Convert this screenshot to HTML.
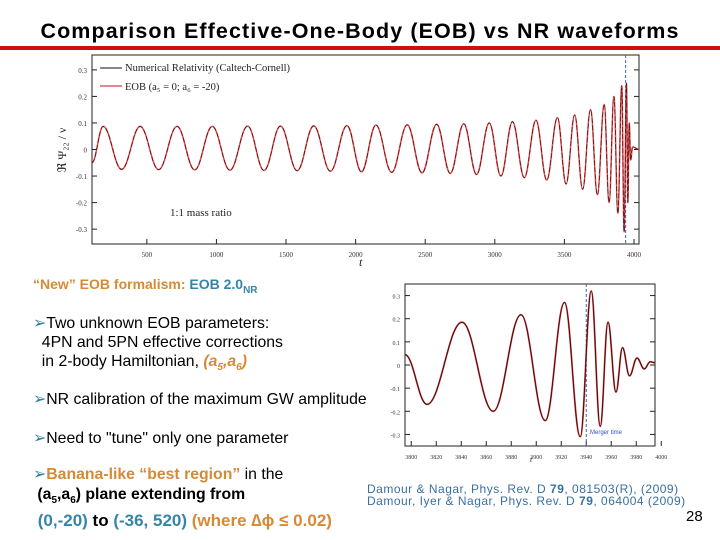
<!DOCTYPE html>
<html><head><meta charset="utf-8">
<style>
body{margin:0;width:720px;height:540px;background:#fff;position:relative;overflow:hidden;font-family:"Liberation Sans",Arial,sans-serif}
.t{position:absolute;white-space:nowrap;font-size:15.8px;color:#000}
.o{color:#d58a35;font-weight:bold}
.b{color:#3485a8}
.ar{color:#2f7fa0}
</style></head><body>
<div class="t" style="left:0;width:720px;text-align:center;top:19px;font-size:21.5px;letter-spacing:1.1px;font-weight:bold">Comparison Effective-One-Body (EOB) vs NR waveforms</div>
<div style="position:absolute;left:0;top:46px;width:720px;height:4px;background:#d01010"></div>

<svg id="topSvg" width="720" height="280" style="position:absolute;left:0;top:0"></svg>
<svg id="botSvg" width="720" height="540" style="position:absolute;left:0;top:0"></svg>

<div class="t" style="left:33px;top:276px;font-size:14px"><span class="o">“New” EOB formalism: </span><span class="b" style="font-weight:bold">EOB 2.0<sub style="font-size:10px">NR</sub></span></div>
<div class="t" style="left:33px;top:314px;line-height:19px"><span class="ar">➢</span>Two unknown EOB parameters:<br>&nbsp;&nbsp;4PN and 5PN effective corrections<br>&nbsp;&nbsp;in 2-body Hamiltonian, <span class="o"><i>(a<sub style="font-size:10px">5</sub>,a<sub style="font-size:10px">6</sub>)</i></span></div>
<div class="t" style="left:33px;top:389px"><span class="ar">➢</span>NR calibration of the maximum GW amplitude</div>
<div class="t" style="left:33px;top:428px"><span class="ar">➢</span>Need to "tune" only one parameter</div>
<div class="t" style="left:33px;top:465px;line-height:20px"><span class="ar">➢</span><span class="o">Banana-like “best region”</span> in the<br>&nbsp;<b>(a<sub style="font-size:10px">5</sub>,a<sub style="font-size:10px">6</sub>) plane extending from</b><br><span style="font-size:17px">&nbsp;<b><span class="b">(0,-20)</span> to <span class="b">(-36, 520)</span> <span class="o">(where ∆ϕ ≤ 0.02)</span></b></span></div>
<div class="t" style="left:367px;top:483px;font-size:12px;letter-spacing:0.5px;line-height:12px;color:#3a6fa0">Damour &amp; Nagar, Phys. Rev. D <b>79</b>, 081503(R), (2009)<br>Damour, Iyer &amp; Nagar, Phys. Rev. D <b>79</b>, 064004 (2009)</div>
<div class="t" style="left:686px;top:508px;font-size:15px">28</div>

<script>
// ---- top chart data ----
const topExtT=[106,186,319,452,585,717,844,970,1097,1224,1342,1460,1580,1699,1819,1938,2042,2146,2259,2371,2477,2582,2680,2777,2869,2960,3044,3127,3212,3296,3373,3450,3512,3574,3631,3688,3737,3786,3821,3856,3884,3912,3929,3946,3956,3966,3976,3990,4036];
const topExtV=[-0.05,0.087,-0.075,0.087,-0.076,0.087,-0.077,0.087,-0.078,0.088,-0.079,0.088,-0.08,0.089,-0.082,0.09,-0.084,0.092,-0.086,0.093,-0.088,0.095,-0.09,0.097,-0.094,0.1,-0.1,0.105,-0.106,0.11,-0.115,0.12,-0.13,0.13,-0.15,0.15,-0.17,0.17,-0.2,0.2,-0.24,0.24,-0.31,0.25,-0.2,0.1,-0.04,0.01,0];
const topXTicks=[500,1000,1500,2000,2500,3000,3500,4000];
const topYTicks=[0.3,0.2,0.1,0,-0.1,-0.2,-0.3];
// ---- bottom chart data ----
const botExtT=[3795,3812.6,3840.6,3865.6,3887.8,3907.2,3922.6,3935.2,3944,3951.2,3957.4,3963.8,3969,3974.6,3980.6,3986.4,3991.2,3995];
const botExtV=[0.045,-0.17,0.185,-0.2,0.217,-0.24,0.27,-0.31,0.32,-0.265,0.185,-0.117,0.075,-0.047,0.03,-0.017,0.014,0.01];
const botXTicks=[3800,3820,3840,3860,3880,3900,3920,3940,3960,3980,4000];
const botYTicks=[0.3,0.2,0.1,0,-0.1,-0.2,-0.3];
const mergerT=3940;

const NS='http://www.w3.org/2000/svg';
function mk(p,tag,at){const e=document.createElementNS(NS,tag);for(const k in at)e.setAttribute(k,at[k]);p.appendChild(e);return e;}
function curve(T,V,sx,sy){let d='M'+sx(T[0]).toFixed(2)+','+sy(V[0]).toFixed(2);
 for(let i=1;i<T.length;i++){const x0=sx(T[i-1]),x1=sx(T[i]),y0=sy(V[i-1]),y1=sy(V[i]);const dx=(x1-x0)/2.6;
  d+=' C'+(x0+dx).toFixed(2)+','+y0.toFixed(2)+' '+(x1-dx).toFixed(2)+','+y1.toFixed(2)+' '+x1.toFixed(2)+','+y1.toFixed(2);}
 return d;}
function chart(svg,o){
 const sx=t=>o.x0+(t-o.t0)/(o.t1-o.t0)*(o.x1-o.x0);
 const sy=v=>o.y0+(o.v1-v)/(o.v1-o.v0)*(o.y1-o.y0);
 const fr=mk(svg,'rect',{x:o.x0,y:o.y0,width:o.x1-o.x0,height:o.y1-o.y0,fill:'none',stroke:'#222','stroke-width':1});
 
 
 o.xt.forEach(t=>{const x=sx(t);
  const l=mk(svg,'line',{x1:x,x2:x,y1:o.y1,y2:o.y1-5,stroke:'#222'});
  
  
  const tx=mk(svg,'text',{x:x,y:o.y1+13,'font-size':o.fs,'text-anchor':'middle',fill:'#333','font-family':'Liberation Serif,serif'});
  tx.textContent=t;
  
  });
 o.yt.forEach(v=>{const y=sy(v);
  const l=mk(svg,'line',{x1:o.x0,x2:o.x0+5,y1:y,y2:y,stroke:'#222'});
  
  
  const l2=mk(svg,'line',{x1:o.x1,x2:o.x1-5,y1:y,y2:y,stroke:'#222'});
  
  
  const tx=mk(svg,'text',{x:o.x0-5,y:y+3,'font-size':o.fs,'text-anchor':'end',fill:'#333','font-family':'Liberation Serif,serif'});
  tx.textContent=v;
  
  });
 const mx=sx(mergerT);
 const ml=mk(svg,'line',{x1:mx,x2:mx,y1:o.y0,y2:o.y1,stroke:'#4060b0','stroke-dasharray':'3,2','stroke-width':1});
 
 
 const d=curve(o.T,o.V,sx,sy);
 const p1=mk(svg,'path',{d:d,fill:'none',stroke:'#e02020','stroke-width':o.w+0.8,opacity:0.8});
 
 
 const p2=mk(svg,'path',{d:d,fill:'none',stroke:'#401010','stroke-width':o.w,'stroke-dasharray':o.dash});
 
 
 return {sx,sy};
}
const topSvg=document.getElementById('topSvg');
chart(topSvg,{x0:92,x1:639,y0:55,y1:244,t0:106,t1:4036,v0:-0.356,v1:0.356,xt:topXTicks,yt:topYTicks,T:topExtT,V:topExtV,fs:7,w:0.7,dash:'5,2'});
const botSvg=document.getElementById('botSvg');
chart(botSvg,{x0:405,x1:655,y0:284,y1:446,t0:3795,t1:3995,v0:-0.35,v1:0.35,xt:botXTicks,yt:botYTicks,T:botExtT,V:botExtV,fs:6,w:1,dash:'none'});

function txt(svg,x,y,s,fs,name,extra){const e=mk(svg,'text',Object.assign({x:x,y:y,'font-size':fs,fill:'#222','font-family':'Liberation Serif,serif'},extra||{}));e.textContent=s;
 
 return e;}
const lg1=mk(topSvg,'line',{x1:100,x2:122,y1:68,y2:68,stroke:'#111'});


txt(topSvg,125,71,'Numerical Relativity (Caltech-Cornell)',10.5,'legend-nr');
const lg2=mk(topSvg,'line',{x1:100,x2:122,y1:86,y2:86,stroke:'#c01818'});


txt(topSvg,125,90,'EOB (a₅ = 0; a₆ = -20)',10.5,'legend-eob');
txt(topSvg,170,216,'1:1 mass ratio',11,'mass-ratio-note');
txt(topSvg,359,266,'t',12,'x-axis-title',{'font-style':'italic'});
txt(topSvg,66,150,'ℜ Ψ₂₂ / ν',12,'y-axis-title',{transform:'rotate(-90 66 150)','text-anchor':'middle'});
txt(botSvg,530,462,'t',8,'bottom-x-axis-title',{'font-style':'italic'});
txt(botSvg,590,434,'Merger time',6,'merger-label',{fill:'#3050c0','font-family':'Liberation Sans,sans-serif'});
</script>
</body></html>
